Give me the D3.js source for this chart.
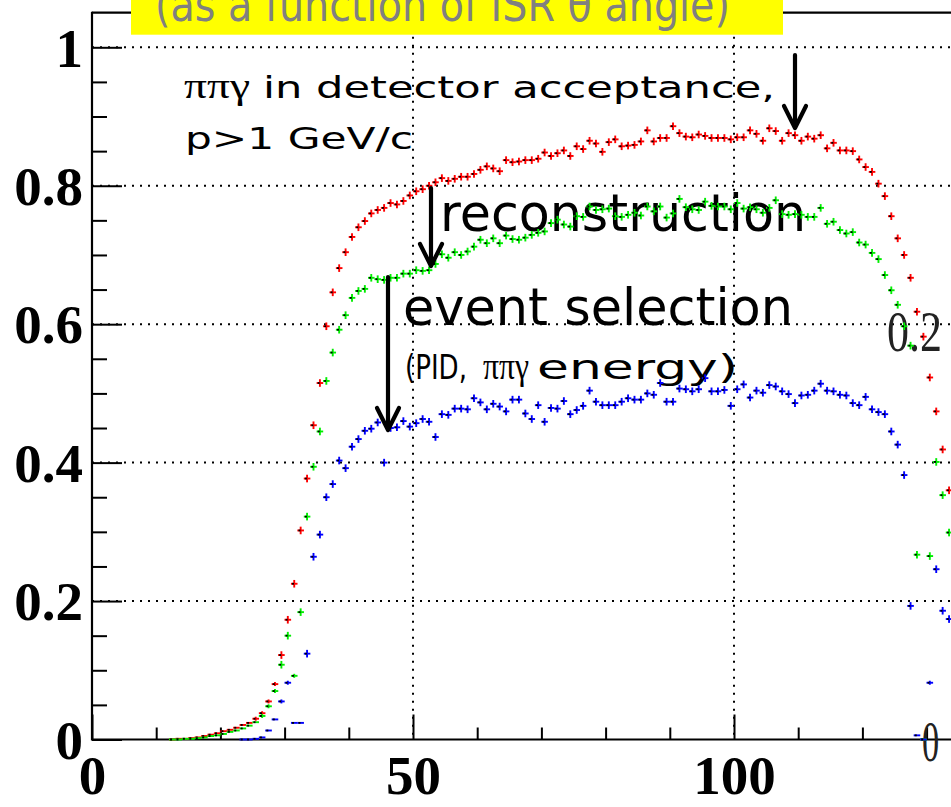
<!DOCTYPE html>
<html><head><meta charset="utf-8">
<script src="https://cdn.jsdelivr.net/npm/d3@7"></script>
<style>html,body{margin:0;padding:0;background:#fff;overflow:hidden}</style>
</head><body>
<svg id="c" width="951" height="807"></svg>
<script>
// ---------- data ----------
const firstBinRG = 12;   // first bin (degrees) of red / green series
const firstBinB = 23;    // first bin of blue series
const acceptanceVals = [ // red: pi pi gamma in detector acceptance, p>1 GeV/c
0.000,0.001,0.001,0.002,0.003,0.005,0.007,0.009,0.012,0.014,0.017,0.021,0.024,0.030,
0.038,0.055,0.080,0.122,0.173,0.225,0.302,0.377,0.454,0.515,0.597,0.646,0.681,0.704,
0.726,0.740,0.749,0.760,0.765,0.768,0.775,0.773,0.778,0.786,0.792,0.795,0.800,0.805,
0.811,0.807,0.810,0.813,0.813,0.817,0.823,0.828,0.825,0.821,0.837,0.834,0.835,0.837,
0.837,0.839,0.848,0.843,0.847,0.851,0.843,0.857,0.853,0.865,0.861,0.849,0.863,0.867,
0.857,0.858,0.859,0.864,0.880,0.864,0.869,0.869,0.886,0.876,0.871,0.870,0.874,0.872,
0.869,0.869,0.869,0.867,0.870,0.870,0.880,0.875,0.865,0.883,0.879,0.865,0.876,0.873,
0.865,0.871,0.868,0.873,0.854,0.862,0.851,0.851,0.850,0.838,0.827,0.820,0.803,0.785,
0.756,0.724,0.700,0.667,0.618,0.582,0.523,0.474,0.419,0.360];
const reconstructionVals = [ // green
0.000,0.000,0.001,0.001,0.002,0.003,0.005,0.006,0.008,0.011,0.013,0.016,0.020,0.025,
0.034,0.048,0.070,0.108,0.150,0.092,0.184,0.322,0.394,0.445,0.518,0.559,0.592,0.613,
0.638,0.648,0.651,0.667,0.665,0.664,0.667,0.667,0.673,0.673,0.678,0.677,0.678,0.687,
0.701,0.696,0.704,0.700,0.705,0.712,0.722,0.717,0.724,0.717,0.728,0.723,0.722,0.725,
0.729,0.732,0.734,0.746,0.751,0.744,0.741,0.756,0.755,0.770,0.765,0.766,0.767,0.756,
0.755,0.758,0.761,0.757,0.770,0.763,0.770,0.754,0.760,0.781,0.769,0.766,0.765,0.777,
0.771,0.770,0.770,0.766,0.775,0.767,0.769,0.766,0.761,0.768,0.779,0.759,0.758,0.759,
0.758,0.755,0.755,0.768,0.745,0.748,0.736,0.731,0.733,0.718,0.715,0.703,0.694,0.671,
0.649,0.628,0.597,0.569,0.267,0.000,0.265,0.401,0.353,0.299];
const selectionVals = [ // blue
0.000,0.000,0.001,0.003,0.013,0.029,0.055,0.082,0.024,0.024,0.124,0.264,0.296,0.350,
0.369,0.403,0.392,0.423,0.434,0.446,0.449,0.458,0.400,0.450,0.451,0.460,0.452,0.457,
0.463,0.459,0.437,0.470,0.469,0.478,0.478,0.477,0.493,0.487,0.477,0.485,0.481,0.474,
0.491,0.491,0.471,0.463,0.483,0.459,0.479,0.478,0.489,0.470,0.476,0.482,0.504,0.488,
0.483,0.483,0.483,0.488,0.493,0.491,0.491,0.500,0.498,0.515,0.488,0.488,0.507,0.506,
0.503,0.506,0.522,0.503,0.503,0.505,0.482,0.506,0.513,0.494,0.504,0.501,0.512,0.510,
0.503,0.499,0.486,0.497,0.498,0.504,0.514,0.504,0.503,0.498,0.497,0.486,0.483,0.495,
0.477,0.473,0.470,0.445,0.426,0.382,0.193,0.006,0.000,0.082,0.246,0.186,0.174];
const seriesColors = ["#ff0000", "#00ee00", "#0000ff"];
const yTickValues = [0, 0.2, 0.4, 0.6, 0.8, 1];
const yTickLabels = ["0", "0.2", "0.4", "0.6", "0.8", "1"];
const yMinorValues = d3.range(0, 1.0001, 0.05).map(v => +v.toFixed(2));
const xTickValues = [0, 50, 100];
const xTickLabels = ["0", "50", "100"];
const xMinorValues = [10, 20, 30, 40, 60, 70, 80, 90, 110, 120, 130];
const rightTickValues = [0, 0.2];
const rightTickLabels = ["0", "0.2"];

// ---------- layout ----------
const W = 951, H = 807;
const x = d3.scaleLinear().domain([0, 100]).range([92, 734]);
const y = d3.scaleLinear().domain([0, 1]).range([739.5, 47.3]);
const yRight = d3.scaleLinear().domain([0, 0.2]).range([739.5, 330]);
const frameTop = 12.7, frameRight = W + 5;
const svg = d3.select("#c");

// grid (dotted)
const grid = svg.append("g").attr("stroke", "#000").attr("stroke-width", 2).attr("stroke-dasharray", "2,6");
grid.selectAll("line.h").data(yTickValues.filter(v => v > 0)).join("line")
  .attr("x1", x(0)).attr("x2", frameRight).attr("y1", d => y(d)).attr("y2", d => y(d));
grid.selectAll("line.v").data([50, 100]).join("line").attr("class", "v")
  .attr("x1", d => x(d)).attr("x2", d => x(d)).attr("y1", frameTop).attr("y2", y(0));

// axes
const axY = svg.append("g").attr("transform", `translate(${x(0)},0)`)
  .call(d3.axisLeft(y).tickValues(yTickValues).tickFormat((d, i) => yTickLabels[i])
    .tickSizeInner(-30).tickSizeOuter(0).tickPadding(9));
axY.select(".domain").remove();
axY.selectAll("line").attr("stroke-width", 2);
axY.selectAll("text").attr("font-family", "Liberation Serif, Times New Roman, serif")
  .attr("font-weight", "bold").attr("font-size", 55).attr("fill", "#000").attr("dy", "0.34em");
const axYm = svg.append("g").attr("transform", `translate(${x(0)},0)`)
  .call(d3.axisLeft(y).tickValues(yMinorValues.filter(v => !yTickValues.some(t => Math.abs(t - v) < 1e-6)))
    .tickFormat("").tickSizeInner(-15).tickSizeOuter(0));
axYm.select(".domain").remove();
axYm.selectAll("line").attr("stroke-width", 2);

const axX = svg.append("g").attr("transform", `translate(0,${y(0)})`)
  .call(d3.axisBottom(x).tickValues(xTickValues).tickFormat((d, i) => xTickLabels[i])
    .tickSizeInner(-25).tickSizeOuter(0).tickPadding(15));
axX.select(".domain").remove();
axX.selectAll("line").attr("stroke-width", 2);
axX.selectAll("text").attr("font-family", "Liberation Serif, Times New Roman, serif")
  .attr("font-weight", "bold").attr("font-size", 55).attr("fill", "#000");
const axXm = svg.append("g").attr("transform", `translate(0,${y(0)})`)
  .call(d3.axisBottom(x).tickValues(xMinorValues).tickFormat("").tickSizeInner(-12).tickSizeOuter(0));
axXm.select(".domain").remove();
axXm.selectAll("line").attr("stroke-width", 2);

// frame lines
svg.append("line").attr("x1", x(0)).attr("x2", x(0)).attr("y1", frameTop - 1).attr("y2", y(0) + 1)
  .attr("stroke", "#000").attr("stroke-width", 2.2);
svg.append("line").attr("x1", x(0)).attr("x2", frameRight).attr("y1", y(0)).attr("y2", y(0))
  .attr("stroke", "#000").attr("stroke-width", 2.2);
svg.append("line").attr("x1", x(0)).attr("x2", frameRight).attr("y1", frameTop).attr("y2", frameTop)
  .attr("stroke", "#000").attr("stroke-width", 2.2);

// right-hand labels (neighbouring axis): tall, narrow serif digits
svg.append("g").selectAll("text").data(rightTickValues).join("text")
  .attr("transform", (d, i) => `translate(${i === 0 ? 922 : 887},${yRight(d) + 21}) scale(${i === 0 ? 0.78 : 1},1.32)`)
  .attr("font-family", "Liberation Serif, Times New Roman, serif").attr("font-size", 44)
  .attr("fill", "#222").text((d, i) => rightTickLabels[i]);

// annotations
const sans = "DejaVu Sans, Verdana, sans-serif";
const serif = "Liberation Serif, Times New Roman, serif";
function label(txt, x0, base, size, len, fam, fill) {
  svg.append("text").attr("x", x0).attr("y", base).attr("font-size", size)
    .attr("font-family", fam || sans).attr("fill", fill || "#000")
    .attr("textLength", len).attr("lengthAdjust", "spacingAndGlyphs").text(txt);
}
label("ππγ", 184, 98, 36, 66, serif);
label("in detector acceptance,", 263, 98, 31, 512);
label("p>1 GeV/c", 185, 149, 31, 228);
label("reconstruction", 440, 231, 52, 366);
label("event selection", 403, 325, 51, 390);
label("(PID,", 405, 379, 34, 62);
label("ππγ", 483, 379, 38, 46, serif);
label("energy)", 537, 379, 34, 201);

// points (after text so they sit on top)
function drawSeries(vals, first, color) {
  const g = svg.append("g");
  const pts = vals.map((v, i) => ({ bin: first + i + 0.5, v }));
  const sel = g.selectAll("g").data(pts).join("g")
    .attr("transform", d => `translate(${x(d.bin)},${y(d.v)})`);
  sel.append("line").attr("x1", -3.3).attr("x2", 3.3).attr("y1", 0).attr("y2", 0)
    .attr("stroke", color).attr("stroke-width", 1.9);
  sel.filter(d => d.v >= 0.03).append("line").attr("x1", 0).attr("x2", 0)
    .attr("y1", d => d.v < 0.1 ? -2 : -3.8).attr("y2", d => d.v < 0.1 ? 2 : 3.8)
    .attr("stroke", color).attr("stroke-width", 1.9);
  sel.append("rect").attr("x", -2.2).attr("y", -0.9).attr("width", 2).attr("height", 1.8).attr("fill", "#000");
}
drawSeries(acceptanceVals, firstBinRG, seriesColors[0]);
drawSeries(reconstructionVals, firstBinRG, seriesColors[1]);
drawSeries(selectionVals, firstBinB, seriesColors[2]);

// arrows
function arrow(xa, y1, y2) {
  const g = svg.append("g").attr("stroke", "#000").attr("stroke-width", 4.2).attr("fill", "none")
    .attr("stroke-linecap", "round").attr("stroke-linejoin", "round");
  g.append("line").attr("x1", xa).attr("x2", xa).attr("y1", y1).attr("y2", y2 - 1);
  g.append("polyline").attr("points", `${xa - 11},${y2 - 22} ${xa},${y2} ${xa + 11},${y2 - 22}`);
}
arrow(795, 55, 128);
arrow(431, 188, 266);
arrow(388, 277, 430);

// yellow title box (cut at top, as in the reference)
svg.append("rect").attr("x", 131).attr("y", -2).attr("width", 652).attr("height", 36.7).attr("fill", "#ffff00");
label("(as a function of ISR θ angle)", 155, 21, 46, 575, sans, "#808080");
</script>
</body></html>
